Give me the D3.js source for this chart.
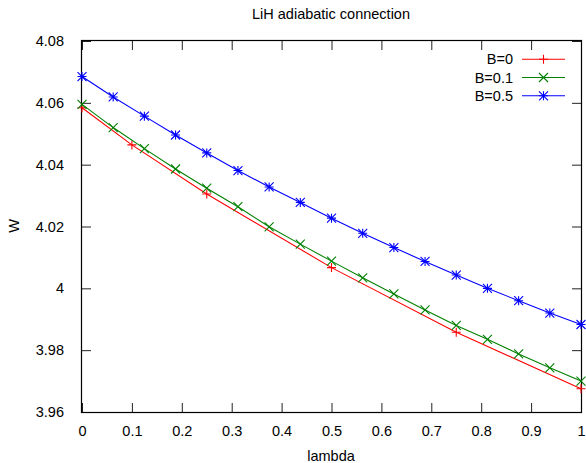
<!DOCTYPE html>
<html>
<head>
<meta charset="utf-8">
<script src="https://cdn.jsdelivr.net/npm/d3@7"></script>
<style>
  html, body { margin: 0; padding: 0; background: #fff; }
  svg { display: block; }
  text { font-family: "Liberation Sans", Arial, sans-serif; font-size: 14.5px; fill: #000; }
</style>
</head>
<body>
<svg id="chart" width="586" height="463"></svg>
<script>
// Adiabatic connection W(lambda) for LiH at several field strengths B
const lambdaB0 = [0, 0.1, 0.25, 0.5, 0.75, 1];
const wB0 = [4.0584, 4.0464, 4.0305, 4.0067, 3.9858, 3.9675];

const lambdaFine = [0, 0.0625, 0.125, 0.1875, 0.25, 0.3125, 0.375, 0.4375, 0.5,
                    0.5625, 0.625, 0.6875, 0.75, 0.8125, 0.875, 0.9375, 1];
const wB01 = [4.0595, 4.0520, 4.0452, 4.0386, 4.0324, 4.0264, 4.0199, 4.0143, 4.0088,
              4.0034, 3.9982, 3.9930, 3.9880, 3.9835, 3.9788, 3.9743, 3.9700];
const wB05 = [4.0685, 4.0619, 4.0557, 4.0496, 4.0438, 4.0381, 4.0328, 4.0278, 4.0227,
              4.0178, 4.0132, 4.0087, 4.0043, 4.0000, 3.9960, 3.9920, 3.9883];

const xTicks = [0, 0.1, 0.2, 0.3, 0.4, 0.5, 0.6, 0.7, 0.8, 0.9, 1];
const yTicks = [3.96, 3.98, 4, 4.02, 4.04, 4.06, 4.08];

const seriesNames = ["B=0", "B=0.1", "B=0.5"];
const seriesColors = ["#ff0000", "#008000", "#0000ff"];
const seriesMarkers = ["plus", "cross", "star"];

const series = [
  { name: seriesNames[0], color: seriesColors[0], marker: seriesMarkers[0],
    pts: lambdaB0.map((l, i) => [l, wB0[i]]) },
  { name: seriesNames[1], color: seriesColors[1], marker: seriesMarkers[1],
    pts: lambdaFine.map((l, i) => [l, wB01[i]]) },
  { name: seriesNames[2], color: seriesColors[2], marker: seriesMarkers[2],
    pts: lambdaFine.map((l, i) => [l, wB05[i]]) }
];

const svg = d3.select("#chart");
const plotLeft = 82, plotRight = 581, plotTop = 41, plotBottom = 412;

const x = d3.scaleLinear().domain([0, 1]).range([plotLeft, plotRight]);
const y = d3.scaleLinear().domain([3.96, 4.08]).range([plotBottom, plotTop]);

const fmtY = v => d3.format(".2f")(v).replace(/\.?0+$/, "");
const fmtX = v => (v === 0 || v === 1) ? String(v) : d3.format(".1f")(v);

// Axes: ticks point inward, mirrored on the opposite sides
const tickLen = 9;
const axisB = d3.axisBottom(x).tickValues(xTicks).tickSizeInner(-tickLen).tickSizeOuter(0).tickPadding(14).tickFormat(fmtX);
const axisT = d3.axisTop(x).tickValues(xTicks).tickSizeInner(-tickLen).tickSizeOuter(0).tickFormat("");
const axisL = d3.axisLeft(y).tickValues(yTicks).tickSizeInner(-tickLen).tickSizeOuter(0).tickPadding(18).tickFormat(fmtY);
const axisR = d3.axisRight(y).tickValues(yTicks).tickSizeInner(-tickLen).tickSizeOuter(0).tickFormat("");

function styleAxis(g) {
  g.select(".domain").remove();
  g.selectAll(".tick line").attr("stroke", "#222").attr("stroke-width", 1);
  g.selectAll(".tick text").attr("fill", "#000")
    .style("font-family", '"Liberation Sans", Arial, sans-serif').style("font-size", "14.5px");
}

svg.append("g").attr("transform", `translate(0,${plotBottom})`).call(axisB).call(styleAxis);
svg.append("g").attr("transform", `translate(0,${plotTop})`).call(axisT).call(styleAxis);
svg.append("g").attr("transform", `translate(${plotLeft},0)`).call(axisL).call(styleAxis);
svg.append("g").attr("transform", `translate(${plotRight},0)`).call(axisR).call(styleAxis);

// Plot border
svg.append("rect")
  .attr("x", plotLeft - 0.5).attr("y", plotTop - 0.5)
  .attr("width", plotRight - plotLeft + 1).attr("height", plotBottom - plotTop + 1)
  .attr("fill", "none").attr("stroke", "#000").attr("stroke-width", 1.2);

// Marker glyphs in gnuplot style
function markerPath(type, cx, cy) {
  const s = 4.5;
  const plus = `M${cx - s},${cy}H${cx + s}M${cx},${cy - s}V${cy + s}`;
  const cross = `M${cx - s},${cy - s}L${cx + s},${cy + s}M${cx - s},${cy + s}L${cx + s},${cy - s}`;
  if (type === "plus") return plus;
  if (type === "cross") return cross;
  return plus + cross;
}

const line = d3.line().x(d => x(d[0])).y(d => y(d[1]));

const plot = svg.append("g");
series.forEach(s => {
  plot.append("path").attr("d", line(s.pts))
    .attr("fill", "none").attr("stroke", s.color).attr("stroke-width", 1.1);
  plot.selectAll(null).data(s.pts).enter().append("path")
    .attr("d", d => markerPath(s.marker, x(d[0]), y(d[1])))
    .attr("fill", "none").attr("stroke", s.color).attr("stroke-width", 1.1);
});

// Legend
const legendY = [59.3, 77.5, 95.8];
series.forEach((s, i) => {
  const ly = legendY[i];
  svg.append("text").attr("x", 513).attr("y", ly).attr("dy", "0.35em")
    .attr("text-anchor", "end").text(s.name);
  svg.append("line").attr("x1", 522).attr("x2", 565).attr("y1", ly).attr("y2", ly)
    .attr("stroke", s.color).attr("stroke-width", 1.1);
  svg.append("path").attr("d", markerPath(s.marker, 543.5, ly))
    .attr("fill", "none").attr("stroke", s.color).attr("stroke-width", 1.1);
});

// Title and axis labels
svg.append("text").attr("x", 331).attr("y", 19).attr("text-anchor", "middle")
  .text("LiH adiabatic connection");
svg.append("text").attr("x", 331).attr("y", 461).attr("text-anchor", "middle")
  .text("lambda");
svg.append("text").attr("transform", "translate(19,226) rotate(-90)")
  .attr("text-anchor", "middle").text("W");
</script>
</body>
</html>
